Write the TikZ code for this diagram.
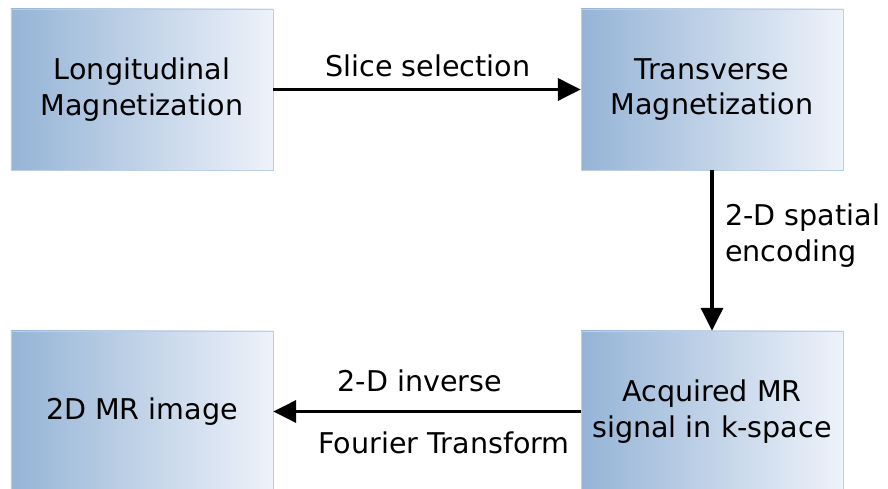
\documentclass[tikz,border=0pt]{standalone}
\usepackage{fontspec}
\setmainfont{DejaVu Sans}
\usetikzlibrary{arrows.meta}
\definecolor{boxleft}{RGB}{149,180,214}
\definecolor{boxright}{RGB}{238,242,250}
\definecolor{boxline}{RGB}{188,206,228}
\begin{document}
\begin{tikzpicture}[
		stage/.style={draw=boxline, line width=0.6pt, left color=boxleft, right color=boxright,
			minimum width=7.86cm, minimum height=4.83cm, align=center,
			font=\fontsize{24.4}{30.2}\selectfont},
		flow/.style={line width=2.6pt, -{Triangle[length=0.68cm,width=0.66cm]}},
		lbl/.style={font=\fontsize{24.4}{30.2}\selectfont, inner sep=0pt}]
			\useasboundingbox (0,0) rectangle (26.64,14.67);

			% the four stages
			\node[stage] (longi) at(4.26, 11.985){Longitudinal\\Magnetization};
			\node[stage] (trans) at(21.36, 11.985){Transverse\\Magnetization};
			\node[stage] (kspace) at(21.36, 2.325){Acquired MR\\signal in k-space};
			\node[stage] (image) at(4.26, 2.325){2D MR image};

			% arrows between them
			\draw[flow] (longi) to (trans);
				\node[lbl] (slice) at(12.84, 12.69){Slice selection};
			\draw[flow] (trans) to (kspace);
				\node[lbl, anchor=west, align=left] (encode) at(21.75, 7.6){2-D spatial\\encoding};
			\draw[flow] (kspace) to (image);
				\node[lbl] (inverse) at(12.6, 3.24){2-D inverse};
				\node[lbl] (fourier) at(13.32, 1.38){Fourier Transform};
		\end{tikzpicture}
\end{document}
